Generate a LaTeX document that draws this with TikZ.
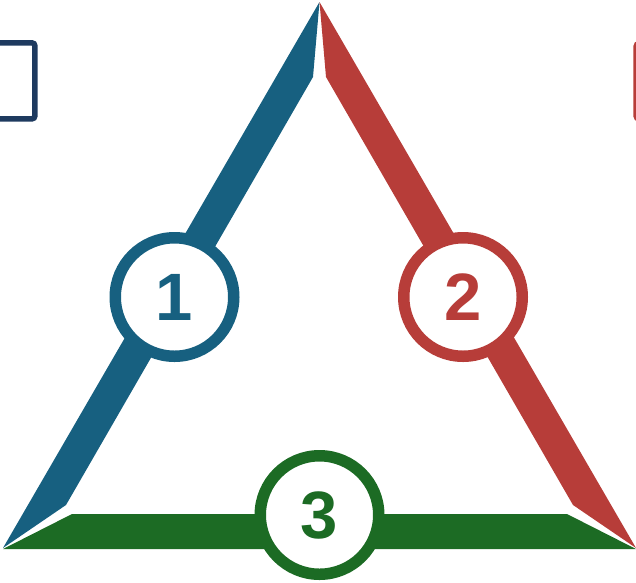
\documentclass[tikz,border=0pt]{standalone}
\usepackage{fontspec}
\setmainfont{Liberation Sans}
\definecolor{sideblue}{RGB}{23,96,128}
\definecolor{sidered}{RGB}{183,61,57}
\definecolor{sidegreen}{RGB}{28,107,36}
\definecolor{boxnavy}{RGB}{30,58,95}
\tikzset{
  ring/.style={circle, fill=white, line width=11.5pt, minimum size=118.5pt,
    inner sep=0pt, font=\fontsize{67}{67}\selectfont\bfseries}
}
\begin{document}
\begin{tikzpicture}[x=1pt,y=-1pt]
\clip (0,0) rectangle (636,582);
\useasboundingbox (0,0) rectangle (636,582);

% Legend boxes (cut off at the edges)
\draw[boxnavy, line width=5.5pt, rounded corners=3pt] (-45,42.8) rectangle (34.9,118.9);
\draw[sidered, line width=5.5pt, rounded corners=3pt] (636.1,43.5) rectangle (716,118.9);

% Sides of the triangle
\fill[sideblue] (319.5,2) -- (3,548) -- (66,505) -- (313,77) -- cycle;
\fill[sidered] (319.5,2) -- (636,548) -- (573,505) -- (326,77) -- cycle;
\fill[sidegreen] (3,549) -- (72,514) -- (567,514) -- (636,549) -- cycle;

% Numbered circles
\node[ring, draw=sideblue, text=sideblue] (one) at (174.5,297) {1};
\node[ring, draw=sidered, text=sidered] (two) at (463,297) {2};
\node[ring, draw=sidegreen, text=sidegreen] (three) at (319.5,515) {3};
\end{tikzpicture}
\end{document}
